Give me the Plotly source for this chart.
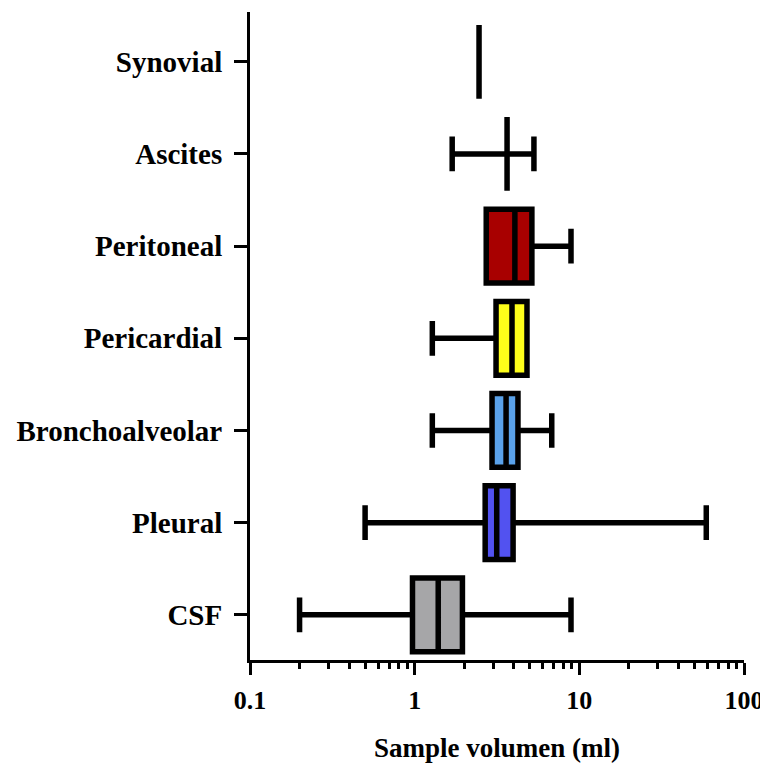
import plotly.graph_objects as go

categories = ["CSF", "Pleural", "Bronchoalveolar", "Pericardial", "Peritoneal", "Ascites", "Synovial"]
lower = [0.2, 0.5, 1.28, 1.28, 2.72, 1.69, 2.46]
q1 = [0.97, 2.68, 2.95, 3.12, 2.72, 3.64, 2.46]
median = [1.39, 3.15, 3.59, 3.9, 4.06, 3.64, 2.46]
q3 = [1.95, 3.96, 4.24, 4.81, 5.15, 3.64, 2.46]
upper = [8.9, 59.0, 6.8, 4.81, 8.9, 5.3, 2.46]
fills = ["#a6a6a8", "#5252f0", "#5aa2ea", "#ffff1a", "#a80000", "rgba(0,0,0,0)", "rgba(0,0,0,0)"]

x_ticks = [0.1, 1, 10, 100]
x_ticklabels = ["0.1", "1", "10", "100"]

FONT = "Liberation Serif"

fig = go.Figure()
for i, cat in enumerate(categories):
    fig.add_trace(go.Box(
        y=[cat],
        q1=[q1[i]], median=[median[i]], q3=[q3[i]],
        lowerfence=[lower[i]], upperfence=[upper[i]],
        orientation="h",
        fillcolor=fills[i],
        line=dict(color="black", width=5.5),
        width=0.8,
        whiskerwidth=0.47,
        boxpoints=False,
        showlegend=False,
        hoverinfo="skip",
    ))

fig.update_layout(
    width=760, height=755,
    margin=dict(l=242, r=22, t=4, b=103),
    paper_bgcolor="white", plot_bgcolor="white",
    boxmode="overlay",
    font=dict(family=FONT, color="black"),
)
fig.update_xaxes(
    type="log", range=[-1, 2],
    tickvals=x_ticks, ticktext=x_ticklabels,
    tickfont=dict(family=FONT, size=26, color="black", weight="bold"),
    ticks="outside", ticklen=12, tickwidth=3, tickcolor="black",
    ticklabelstandoff=3,
    showline=True, linecolor="black", linewidth=3,
    showgrid=False, zeroline=False,
    minor=dict(ticks="outside", ticklen=6, tickwidth=3, tickcolor="black", dtick="D1", showgrid=False),
    title=dict(text="<b>Sample volumen (ml)</b>", font=dict(family=FONT, size=27, color="black"), standoff=24),
)
fig.update_yaxes(
    type="category", categoryorder="array", categoryarray=categories,
    range=[-0.49, 6.54],
    tickfont=dict(family=FONT, size=29, color="black", weight="bold"),
    ticks="outside", ticklen=13, tickwidth=3, tickcolor="black",
    ticklabelstandoff=6,
    showline=True, linecolor="black", linewidth=3,
    showgrid=False, zeroline=False,
)

fig.write_html("out.html")
